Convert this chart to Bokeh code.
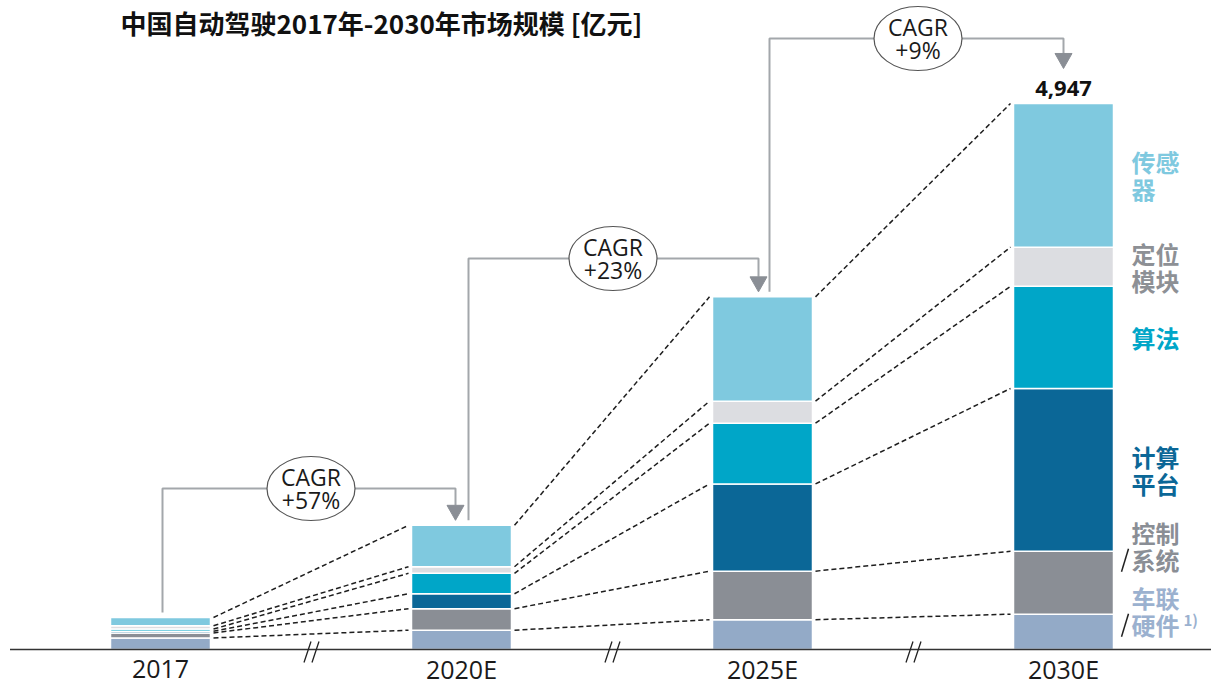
import numpy as np
from bokeh.plotting import figure
from bokeh.models import Range1d, ColumnDataSource
from bokeh.core.properties import value
from bokeh.embed import file_html
from bokeh.resources import INLINE

# ---- data (亿元) ----
years = ["2017", "2020E", "2025E", "2030E"]
# stack order: from the bottom of each bar upward
v2x_hw = [105, 175, 270, 320]        # 车联硬件
control = [45, 195, 440, 570]        # 控制系统
compute = [15, 135, 790, 1475]       # 计算平台
algorithm = [20, 185, 550, 925]      # 算法
positioning = [30, 60, 200, 355]     # 定位模块
sensors = [75, 375, 945, 1302]       # 传感器
cagr_labels = ["+57%", "+23%", "+9%"]
title = "中国自动驾驶2017年-2030年市场规模 [亿元]"

seg_keys = ["v2x", "control", "compute", "algorithm", "positioning", "sensors"]
seg_values = [v2x_hw, control, compute, algorithm, positioning, sensors]
seg_colors = ["#93aac7", "#8a8e95", "#0b6797", "#00a6c8", "#dcdde1", "#7fc9df"]
seg_names = [["车联", "硬件"], ["控制", "系统"], ["计算", "平台"], ["算法"],
             ["定位", "模块"], ["传感", "器"]]
name_colors = ["#9bb1cf", "#8a8e95", "#0b6797", "#00a6c8", "#8d9095", "#7fc9df"]

# ---- canvas geometry ----
W, H = 1211, 689
STEP = 301.0          # pixels between bar centres
X0 = 160.0            # pixel x of the first bar centre
BASE = 649.0          # pixel y of the zero line
U = 9.06              # 亿元 per pixel
BW = 100.0 / STEP     # bar width in category units
CJK = value("Noto Sans CJK SC")
LATIN = value("Open Sans")


def dx(px):
    return px / STEP


def dy(px):
    return px * U


def py2y(py):
    return (BASE - py) * U


p = figure(width=W, height=H,
           x_range=Range1d(-X0 / STEP, (W - X0) / STEP),
           y_range=Range1d(-(H - BASE) * U, BASE * U),
           x_axis_type=None, y_axis_type=None,
           output_backend="svg", toolbar_location=None, min_border=0)
p.grid.visible = False
p.outline_line_color = None
p.background_fill_color = "white"
p.border_fill_color = "white"

xs = list(range(len(years)))
data = {"x": xs}
for k, v in zip(seg_keys, seg_values):
    data[k] = v
src = ColumnDataSource(data)

tops = np.cumsum(np.array(seg_values, dtype=float), axis=0)   # (6, 4)
totals = tops[-1]

# dashed guides linking each segment top between neighbouring bars
gx0, gy0, gx1, gy1 = [], [], [], []
for i in range(len(years) - 1):
    for j in range(len(seg_keys)):
        gx0.append(i + BW / 2 + dx(3))
        gy0.append(tops[j][i])
        gx1.append(i + 1 - BW / 2 - dx(3))
        gy1.append(tops[j][i + 1])
p.segment(gx0, gy0, gx1, gy1, line_color="#1e1e1e", line_width=1.5, line_dash="5 3")

# stacked bars
p.vbar_stack(seg_keys, x="x", width=BW, color=seg_colors, source=src,
             line_color="white", line_width=1.5)

# zero line and axis breaks
p.segment([-0.5], [0], [(W - X0) / STEP], [0], line_color="#333333", line_width=1.6)
bx0, by0, bx1, by1 = [], [], [], []
for i in range(len(years) - 1):
    c = i + 0.5
    for k in range(2):
        xb = c + dx(-7 + 8 * k)
        bx0.append(xb)
        by0.append(py2y(662))
        bx1.append(xb + dx(7))
        by1.append(py2y(641))
p.segment(bx0, by0, bx1, by1, line_color="#222222", line_width=1.3)

# category labels
p.text(x=xs, y=[py2y(668)] * len(xs), text=years, text_align="center",
       text_baseline="middle", text_font=LATIN,
       text_font_size="25px", text_color="#1a1a1a")

# CAGR connectors
out_off = [2, 7, 7]
in_off = [-6, -4, 0]
tip_gap = [5, 5, 35]
level_py = [488, 258, 38]
ell_off = [0, 1, 5]
for i in range(len(years) - 1):
    level = py2y(level_py[i])
    x_out = i + dx(out_off[i])
    x_in = i + 1 + dx(in_off[i])
    tip = totals[i + 1] + dy(tip_gap[i])
    head = tip + dy(15)
    p.line([x_out, x_out, x_in, x_in], [totals[i] + dy(5), level, level, head],
           line_color="#a3a7ab", line_width=2)
    p.patch([x_in - dx(8.5), x_in + dx(8.5), x_in], [head, head, tip],
            fill_color="#8a8e95", line_color="#8a8e95")
    cx = i + 0.5 + dx(ell_off[i])
    p.ellipse(x=[cx], y=[level], width=88, height=64, width_units="screen",
              height_units="screen", fill_color="white", line_color="#555555",
              line_width=1.2)
    p.text(x=[cx, cx], y=[level + dy(12), level - dy(11)], text=["CAGR", cagr_labels[i]],
           text_align="center", text_baseline="middle", text_font=LATIN,
           text_font_size="23px", text_color="#1a1a1a")

# total on the last bar
p.text(x=[xs[-1]], y=[totals[-1] + dy(15)], text=[f"{int(totals[-1]):,}"],
       text_align="center", text_baseline="middle", text_font=LATIN,
       text_font_style="bold", text_font_size="22px", text_color="#111111")

# segment names beside the last bar
shift_px = [21, 37, 0, 0, 0, 0]
LINE = 27.0
lx = xs[-1] + dx(68)
for j in range(len(seg_keys)):
    centre = tops[j][-1] - seg_values[j][-1] / 2 + dy(shift_px[j])
    lines = seg_names[j]
    n = len(lines)
    ys = [centre + dy(LINE * ((n - 1) / 2 - k)) for k in range(n)]
    p.text(x=[lx] * n, y=ys, text=lines, text_align="left",
           text_baseline="middle", text_font=CJK,
           text_font_style="bold", text_font_size="24px",
           text_color=name_colors[j])
    if j < 2:
        sc = ys[-1] - dy(1)
        p.segment([xs[-1] + dx(58)], [sc - dy(11.5)], [xs[-1] + dx(65)], [sc + dy(11.5)],
                  line_color="#222222", line_width=1.5)
        if j == 0:
            p.text(x=[xs[-1] + dx(120)], y=[ys[-1] + dy(5)], text=["1)"],
                   text_align="left", text_baseline="middle",
                   text_font=CJK, text_font_style="bold",
                   text_font_size="15px", text_color=name_colors[j])

# chart title (top edge)
p.text(x=[dx(120 - X0)], y=[py2y(22)], text=[title], text_align="left",
       text_baseline="middle", text_font=CJK,
       text_font_style="bold", text_font_size="26px", text_color="#111111")

open("out.html", "w").write(file_html(p, INLINE))
